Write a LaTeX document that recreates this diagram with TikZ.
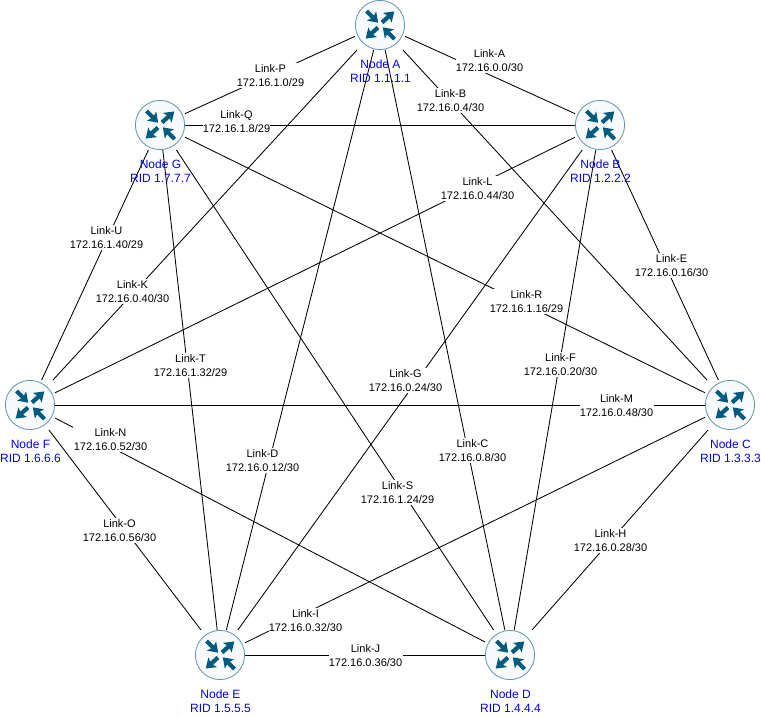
\documentclass[tikz,border=0pt]{standalone}
\usepackage{fontspec}
\setmainfont{Liberation Sans}
\definecolor{icondark}{HTML}{005B7F}
\definecolor{ringc}{HTML}{5F95AB}
\definecolor{discc}{HTML}{F7F9FA}
\definecolor{ridblue}{HTML}{0000FF}
\newcommand{\iconarrow}[3]{%
  \begin{scope}[shift={(#1,#2)},rotate=#3]
  \fill[icondark] (0,-2.1) -- (8.5,-2.1) -- (7,-6.6) -- (16.5,0) -- (7,6.6) -- (8.5,2.1) -- (0,2.1) -- cycle;
  \end{scope}}
\tikzset{
  x=1pt,y=-1pt,
  router/.style={rectangle,minimum width=50pt,minimum height=50pt,inner sep=0pt,outer sep=0pt},
  rid/.style={text=ridblue,font=\fontsize{12}{14}\selectfont,align=center,inner sep=0pt},
  linklabel/.style={fill=white,font=\fontsize{11}{14.2}\selectfont,align=center,inner xsep=0.3pt,inner ysep=1.2pt},
  link/.style={draw=black,line width=0.85pt}
}
\begin{document}
\begin{tikzpicture}
\useasboundingbox (0,0) rectangle (761,717);
\node[router] (A) at (380,25) {};
\node[router] (B) at (600,125) {};
\node[router] (C) at (730,405) {};
\node[router] (D) at (510,655) {};
\node[router] (E) at (220,655) {};
\node[router] (F) at (30,405) {};
\node[router] (G) at (160,125) {};
\foreach \a/\b in {A/B,A/C,A/D,A/E,A/F,A/G,B/C,B/D,B/E,B/F,B/G,C/D,C/E,C/F,C/G,D/E,D/F,D/G,E/F,E/G,F/G}
  \draw[link] (\a) -- (\b);
\foreach \n in {A,B,C,D,E,F,G}{
  \begin{scope}[shift={(\n.center)}]
    \draw[ringc,fill=discc,line width=0.8pt] (0,0) circle[radius=24.6pt];
    \iconarrow{-13.5}{-14}{-45}
    \iconarrow{2}{-2.5}{42}
    \iconarrow{-2}{2.5}{222}
    \iconarrow{14.5}{14}{135}
  \end{scope}}
\foreach \na/\t/\ip/\x/\y in {
  lA/Link-A/172.16.0.0\slash 30/489.5/60.3,
  lB/Link-B/172.16.0.4\slash 30/450.5/100.3,
  lC/Link-C/172.16.0.8\slash 30/472.5/450.3,
  lD/Link-D/172.16.0.12\slash 30/262.5/460.3,
  lE/Link-E/172.16.0.16\slash 30/671.5/265.3,
  lF/Link-F/172.16.0.20\slash 30/560.5/364.3,
  lG/Link-G/172.16.0.24\slash 30/405.5/380.3,
  lH/Link-H/172.16.0.28\slash 30/610.5/540.3,
  lI/Link-I/172.16.0.32\slash 30/305.5/620.3,
  lJ/Link-J/172.16.0.36\slash 30/365.5/655.3,
  lK/Link-K/172.16.0.40\slash 30/132.5/291.3,
  lL/Link-L/172.16.0.44\slash 30/477.5/188.3,
  lM/Link-M/172.16.0.48\slash 30/616.5/405.3,
  lN/Link-N/172.16.0.52\slash 30/110.5/439.3,
  lO/Link-O/172.16.0.56\slash 30/119.5/530.3,
  lP/Link-P/172.16.1.0\slash 29/270.5/75.3,
  lQ/Link-Q/172.16.1.8\slash 29/236.5/121.3,
  lR/Link-R/172.16.1.16\slash 29/526.5/301.3,
  lS/Link-S/172.16.1.24\slash 29/397.5/492.3,
  lT/Link-T/172.16.1.32\slash 29/190.5/365.3,
  lU/Link-U/172.16.1.40\slash 29/106.5/237.3}
  \node[linklabel] (\na) at (\x,\y) {\t\\\ip};
\foreach \na/\n/\r/\x/\y in {
  nA/Node A/1.1.1.1/380.5/71,
  nB/Node B/1.2.2.2/600.5/171,
  nC/Node C/1.3.3.3/730.5/451,
  nD/Node D/1.4.4.4/510.5/701,
  nE/Node E/1.5.5.5/220.5/701,
  nF/Node F/1.6.6.6/30.5/451,
  nG/Node G/1.7.7.7/160.5/171}
  \node[rid] (\na) at (\x,\y) {\n\\RID \r};
\end{tikzpicture}
\end{document}
